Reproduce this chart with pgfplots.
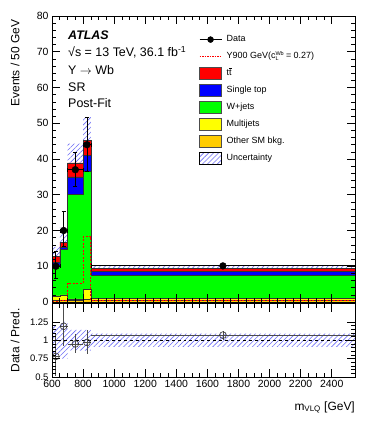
\documentclass[border=0pt]{standalone}
\usepackage{fontspec}
\setmainfont{Liberation Sans}
\usepackage{amsmath}
\usepackage{pgfplots}
\pgfplotsset{compat=1.18}
\usepgfplotslibrary{fillbetween}
\usetikzlibrary{patterns.meta}

\definecolor{rootred}{RGB}{255,0,0}
\definecolor{rootblue}{RGB}{0,0,255}
\definecolor{rootgreen}{RGB}{0,255,0}
\definecolor{rootyellow}{RGB}{255,255,0}
\definecolor{rootorange}{RGB}{255,204,0}
\definecolor{hatch}{RGB}{110,110,245}

\newcommand{\ttbar}{t\rlap{\raisebox{0.8em}{\rule{0.3em}{0.06em}}}t}
\newcommand{\sm}{\fontsize{5.5}{6}\selectfont}

\pgfplotsset{
  atlas/.style={
    scale only axis, width=303bp,
    xmin=600, xmax=2550,
    axis on top,
    tick align=inside, xtick pos=both, ytick pos=both,
    major tick length=8bp, minor tick length=4bp,
    axis line style={line width=0.8bp},
    every tick/.style={black, line width=0.6bp},
    xtick={600,800,...,2400}, minor x tick num=3,
    scaled x ticks=false,
    /pgf/number format/.cd, 1000 sep={}, assume math mode=true, /pgfplots/.cd,
    ticklabel style={font=\fontsize{10.5}{12}\selectfont},
  },
  boxleg/.style={legend image code/.code={
      \draw[##1, line width=0.5bp] (0bp,-6bp) rectangle (22bp,6bp);}},
}

\begin{document}
\begin{tikzpicture}

\begin{axis}[atlas, name=main, at={(0,0)}, anchor=south west,
    height=286bp, ymin=0, ymax=80, ytick={0,10,...,80}, minor y tick num=4,
    xticklabels={},
    legend style={at={(0.485,0.948)}, anchor=north west, draw=none, fill=none,
      inner sep=0pt, font=\fontsize{9}{10}\selectfont,
      nodes={text height=7bp, text depth=2.5bp, inner sep=3.75bp},
      column sep=1bp},
    legend cell align=left]

  % legend entries
  \addlegendimage{legend image code/.code={
      \draw[black, line width=0.8bp] (0bp,0bp) -- (22bp,0bp);
      \fill[black] (11bp,0bp) circle (3bp);}}
  \addlegendentry{Data}
  \addlegendimage{legend image code/.code={
      \draw[rootred, line width=0.6bp, dash pattern=on 1.5bp off 1bp] (0bp,0bp) -- (22bp,0bp);}}
  \addlegendentry{Y900 GeV(c\rlap{\raisebox{0.75ex}{\sm Wb}}\raisebox{-0.3ex}{\sm L}\hspace{0.55em} = 0.27)}
  \addlegendimage{boxleg, fill=rootred, draw=black!70}
  \addlegendentry{\ttbar}
  \addlegendimage{boxleg, fill=rootblue, draw=black!70}
  \addlegendentry{Single top}
  \addlegendimage{boxleg, fill=rootgreen, draw=black!70}
  \addlegendentry{W+jets}
  \addlegendimage{boxleg, fill=rootyellow, draw=black!70}
  \addlegendentry{Multijets}
  \addlegendimage{boxleg, fill=rootorange, draw=black!70}
  \addlegendentry{Other SM bkg.}
  \addlegendimage{legend image code/.code={
      \fill[pattern={Lines[angle=45,distance=3.5bp,line width=0.6bp]}, pattern color=hatch]
        (0bp,-6bp) rectangle (22bp,6bp);}}
  \addlegendentry{Uncertainty}

  % stacked backgrounds (cumulative heights, per 50 GeV)
  \addplot[const plot, fill=rootred, draw=black!80, line width=0.4bp, forget plot]
    coordinates {(600,12.8) (650,16.7) (700,38.9) (800,45.3) (850,9.4) (2550,9.4)} \closedcycle;
  \addplot[const plot, fill=rootblue, draw=black!80, line width=0.4bp, forget plot]
    coordinates {(600,11.0) (650,15.3) (700,35.0) (800,41.1) (850,8.5) (2550,8.5)} \closedcycle;
  \addplot[const plot, fill=rootgreen, draw=black!80, line width=0.4bp, forget plot]
    coordinates {(600,10.2) (650,14.8) (700,30.2) (800,36.6) (850,7.4) (2550,7.4)} \closedcycle;
  \addplot[const plot, fill=rootyellow, draw=black!80, line width=0.4bp, forget plot]
    coordinates {(600,1.7) (650,2.0) (700,0.9) (800,3.5) (850,1.1) (2550,1.1)} \closedcycle;
  \addplot[const plot, fill=rootorange, draw=black!80, line width=0.4bp, forget plot]
    coordinates {(600,0.6) (650,0.6) (700,0.5) (800,0.7) (850,0.6) (2550,0.6)} \closedcycle;

  % signal
  \addplot[const plot, rootred, line width=0.8bp, dash pattern=on 2bp off 1.5bp, forget plot]
    coordinates {(600,0.3) (650,0.5) (700,5.2) (800,18.3) (850,0.4) (2550,0.4)};

  % uncertainty band
  \addplot[const plot, draw=none, name path=up, forget plot]
    coordinates {(600,15.4) (650,20.9) (700,44.3) (800,51.7) (850,10.25) (2550,10.25)};
  \addplot[const plot, draw=none, name path=lo, forget plot]
    coordinates {(600,10.2) (650,12.5) (700,33.5) (800,38.9) (850,8.55) (2550,8.55)};
  \addplot[pattern={Lines[angle=45,distance=3.5bp,line width=0.6bp]}, pattern color=hatch,
    draw=none, forget plot] fill between[of=up and lo];

  % data
  \addplot[only marks, mark=*, mark size=3.4bp, black, forget plot,
    error bars/.cd, x dir=both, x explicit, y dir=both, y explicit,
    error bar style={line width=0.8bp}, error mark options={rotate=90, mark size=2bp}]
    coordinates {
      (625,10.0) += (25,4.1) -= (25,3.4)
      (675,20.0) += (25,5.5) -= (25,4.5)
      (750,37.0) += (50,4.9) -= (50,4.5)
      (825,44.0) += (25,7.7) -= (25,7.4)
      (1700,10.1) += (850,0.6) -= (850,0.6)
    };
\end{axis}

\begin{axis}[atlas, at={(0,-1.5bp)}, anchor=north west,
    height=73.5bp, ymin=0.5, ymax=1.5, ytick={0.5,0.75,1,1.25}, minor y tick num=4,
    yticklabel style={font=\fontsize{9.5}{11}\selectfont}]

  \addplot[const plot, draw=none, name path=rup]
    coordinates {(600,1.2) (650,1.25) (700,1.14) (800,1.14) (850,1.09) (2550,1.09)};
  \addplot[const plot, draw=none, name path=rlo]
    coordinates {(600,0.8) (650,0.75) (700,0.86) (800,0.86) (850,0.91) (2550,0.91)};
  \addplot[pattern={Lines[angle=45,distance=3.5bp,line width=0.6bp]}, pattern color=hatch,
    draw=none] fill between[of=rup and rlo];

  \addplot[black, dashed, line width=0.6bp] coordinates {(600,1) (2550,1)};

  \addplot[only marks, mark=o, mark size=3.4bp, black!80, mark options={fill=white, line width=0.6bp},
    error bars/.cd, x dir=both, x explicit, y dir=both, y explicit,
    error bar style={line width=0.8bp, black!70}, error mark=none]
    coordinates {
      (625,0.78) += (25,0.32) -= (25,0.27)
      (675,1.19) += (25,0.33) -= (25,0.27)
      (750,0.95) += (50,0.13) -= (50,0.12)
      (825,0.97) += (25,0.17) -= (25,0.16)
      (1700,1.07) += (850,0.06) -= (850,0.06)
    };
\end{axis}

% texts
\tikzset{ann/.style={anchor=base west, inner sep=0pt, font=\fontsize{12.5}{14}\selectfont}}
\node[ann, font=\fontsize{12.5}{14}\selectfont\bfseries\itshape] at (16bp,262bp) {ATLAS};
\node[ann] at (16bp,245.2bp) {√s = 13 TeV, 36.1 fb$^{\text{-1}}$};
\node[ann] at (16bp,227.5bp) {Y $\rightarrow$ Wb};
\node[ann] at (16bp,210.8bp) {SR};
\node[ann] at (16bp,194.2bp) {Post-Fit};

\node[rotate=90, anchor=east, font=\fontsize{12}{14}\selectfont] at (-37bp,286bp) {Events / 50 GeV};
\node[rotate=90, anchor=east, font=\fontsize{12}{14}\selectfont] at (-37bp,-3bp) {Data / Pred.};
\node[anchor=base east, inner sep=0pt, font=\fontsize{12}{14}\selectfont] at (303bp,-108bp) {m$_{\text{VLQ}}$ [GeV]};

\pgfresetboundingbox
\path (-52bp,-119bp) rectangle (322bp,302bp);
\end{tikzpicture}
\end{document}
